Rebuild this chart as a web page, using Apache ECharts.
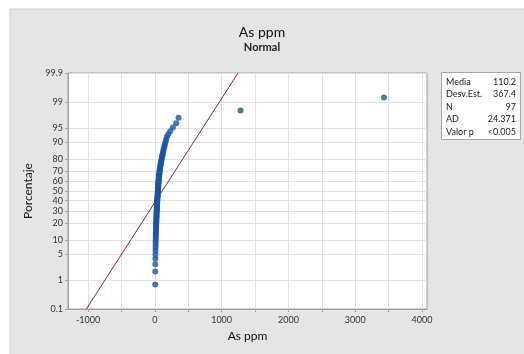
<!DOCTYPE html>
<html><head><meta charset="utf-8">
<script src="https://cdn.jsdelivr.net/npm/echarts@6/dist/echarts.min.js"></script>
<style>html,body{margin:0;padding:0;background:#fff}#c{width:524px;height:354px}</style>
</head><body><div id="c"></div>
<script>
// Sorted As ppm values, n = 97
const asPpm = [
  5, 6, 7, 8, 9, 10, 11, 12, 12, 13,
  14, 14, 15, 16, 17, 17, 18, 19, 20, 21,
  22, 22, 23, 24, 25, 26, 26, 27, 28, 29,
  30, 30, 31, 32, 33, 34, 34, 35, 36, 37,
  38, 39, 40, 41, 42, 43, 44, 45, 46, 47,
  48, 49, 50, 51, 52, 53, 54, 55, 56, 57,
  59, 61, 62, 64, 65, 67, 69, 71, 73, 75,
  78, 81, 84, 87, 90, 94, 98, 102, 106, 110,
  115, 120, 125, 130, 137, 143, 150, 160, 170, 180,
  200, 230, 270, 320, 355, 1283, 3430
];
const percentTicks = [0.1, 1, 5, 10, 20, 30, 40, 50, 60, 70, 80, 90, 95, 99, 99.9];
const percentLabels = ['0.1','1','5','10','20','30','40','50','60','70','80','90','95','99','99.9'];
const xLabelValues = [-1000, 0, 1000, 2000, 3000, 4000];
const xGridValues = [-1000, -500, 0, 500, 1000, 1500, 2000, 2500, 3000, 3500, 4000];
const statNames = ['Media', 'Desv.Est.', 'N', 'AD', 'Valor p'];
const statValues = ['110.2', '367.4', '97', '24.371', '<0.005'];
const fitMean = 110.2;
const fitSd = 367.4;

// inverse standard normal CDF (Acklam) – the probability-scale transform
function probit(p) {
  const a = [-3.969683028665376e+01, 2.209460984245205e+02, -2.759285104469687e+02, 1.383577518672690e+02, -3.066479806614716e+01, 2.506628277459239e+00];
  const b = [-5.447609879822406e+01, 1.615858368580409e+02, -1.556989798598866e+02, 6.680131188771972e+01, -1.328068155288572e+01];
  const c = [-7.784894002430293e-03, -3.223964580411365e-01, -2.400758277161838e+00, -2.549732539343734e+00, 4.374664141464968e+00, 2.938163982698783e+00];
  const d = [7.784695709041462e-03, 3.224671290700398e-01, 2.445134137142996e+00, 3.754408661907416e+00];
  const pl = 0.02425, ph = 1 - pl;
  let q, r;
  if (p < pl) { q = Math.sqrt(-2 * Math.log(p)); return (((((c[0]*q+c[1])*q+c[2])*q+c[3])*q+c[4])*q+c[5]) / ((((d[0]*q+d[1])*q+d[2])*q+d[3])*q+1); }
  if (p <= ph) { q = p - 0.5; r = q*q; return (((((a[0]*r+a[1])*r+a[2])*r+a[3])*r+a[4])*r+a[5])*q / (((((b[0]*r+b[1])*r+b[2])*r+b[3])*r+b[4])*r+1); }
  q = Math.sqrt(-2 * Math.log(1 - p)); return -(((((c[0]*q+c[1])*q+c[2])*q+c[3])*q+c[4])*q+c[5]) / ((((d[0]*q+d[1])*q+d[2])*q+d[3])*q+1);
}

const n = asPpm.length;
const points = asPpm.map((v, i) => [v, probit((i + 1 - 0.3) / (n + 0.4))]);
const zTicks = percentTicks.map(p => probit(p / 100));
const zMin = zTicks[0], zMax = zTicks[zTicks.length - 1];
const fitLine = [[fitMean + fitSd * zMin, zMin], [fitMean + fitSd * zMax, zMax]];

const FONT = 'Lato';
const chart = echarts.init(document.getElementById('c'), null, { renderer: 'canvas' });

const statGraphics = [];
statNames.forEach((s, i) => {
  const y = 82 + i * 12.4;
  statGraphics.push({ type: 'text', z: 7, style: { x: 446, y: y, text: s, font: '9px ' + FONT, fill: '#222', textVerticalAlign: 'middle', verticalAlign: 'middle' } });
  statGraphics.push({ type: 'text', z: 7, style: { x: 516, y: y, text: statValues[i], font: '9px ' + FONT, fill: '#222', textAlign: 'right', align: 'right', textVerticalAlign: 'middle', verticalAlign: 'middle' } });
});

chart.setOption({
  backgroundColor: '#ffffff',
  animation: false,
  textStyle: { fontFamily: FONT },
  graphic: [
    { type: 'rect', z: -10, shape: { x: 10, y: 9, width: 520, height: 350 }, style: { fill: '#e5e5e5', stroke: '#cdcdcd', lineWidth: 1 } },
    { type: 'rect', z: 5, shape: { x: 441.5, y: 72.5, width: 79, height: 67 }, style: { fill: '#ffffff', stroke: '#a8a8a8', lineWidth: 1 } }
  ].concat(statGraphics),
  title: [
    { text: 'As ppm', left: 'center', top: 20, textStyle: { fontSize: 14, fontWeight: 'normal', color: '#111', fontFamily: FONT } },
    { text: 'Normal', left: 'center', top: 37, textStyle: { fontSize: 11, fontWeight: 'bold', color: '#222', fontFamily: FONT } }
  ],
  grid: { left: 68, right: 97, top: 73, bottom: 45, show: true, backgroundColor: '#ffffff', borderColor: '#a0a0a0', borderWidth: 1 },
  xAxis: {
    type: 'value', min: -1300, max: 4075,
    name: 'As ppm', nameLocation: 'middle', nameGap: 21,
    nameTextStyle: { fontSize: 12, color: '#111', fontFamily: FONT },
    axisLine: { show: true, onZero: false, lineStyle: { color: '#a0a0a0' } },
    axisTick: { show: true, customValues: xGridValues, length: 3, lineStyle: { color: '#a0a0a0' } },
    axisLabel: { customValues: xLabelValues, fontSize: 9, color: '#333', margin: 7, fontFamily: FONT, formatter: v => String(v) },
    splitLine: { show: true, lineStyle: { color: '#e2e2e2', width: 1 } }
  },
  yAxis: {
    type: 'value', min: zMin, max: zMax,
    name: 'Porcentaje', nameLocation: 'middle', nameGap: 28, nameRotate: 90,
    nameTextStyle: { fontSize: 12, color: '#111', fontFamily: FONT },
    axisLine: { show: true, onZero: false, lineStyle: { color: '#a0a0a0' } },
    axisTick: { show: true, customValues: zTicks, length: 3, lineStyle: { color: '#a0a0a0' } },
    axisLabel: {
      customValues: zTicks, fontSize: 9, color: '#333', margin: 5, fontFamily: FONT,
      formatter: function (v) {
        let best = 0, bd = Infinity;
        zTicks.forEach((z, i) => { const dd = Math.abs(z - v); if (dd < bd) { bd = dd; best = i; } });
        return percentLabels[best];
      }
    },
    splitLine: { show: true, lineStyle: { color: '#e2e2e2', width: 1 } }
  },
  series: [
    {
      type: 'line', data: fitLine, symbol: 'none', silent: true,
      lineStyle: { color: '#a3201f', width: 1 }, z: 2
    },
    {
      type: 'scatter', data: points, symbol: 'circle', symbolSize: 6,
      itemStyle: { color: '#1656a4' }, z: 3
    }
  ]
});
</script>
</body></html>
